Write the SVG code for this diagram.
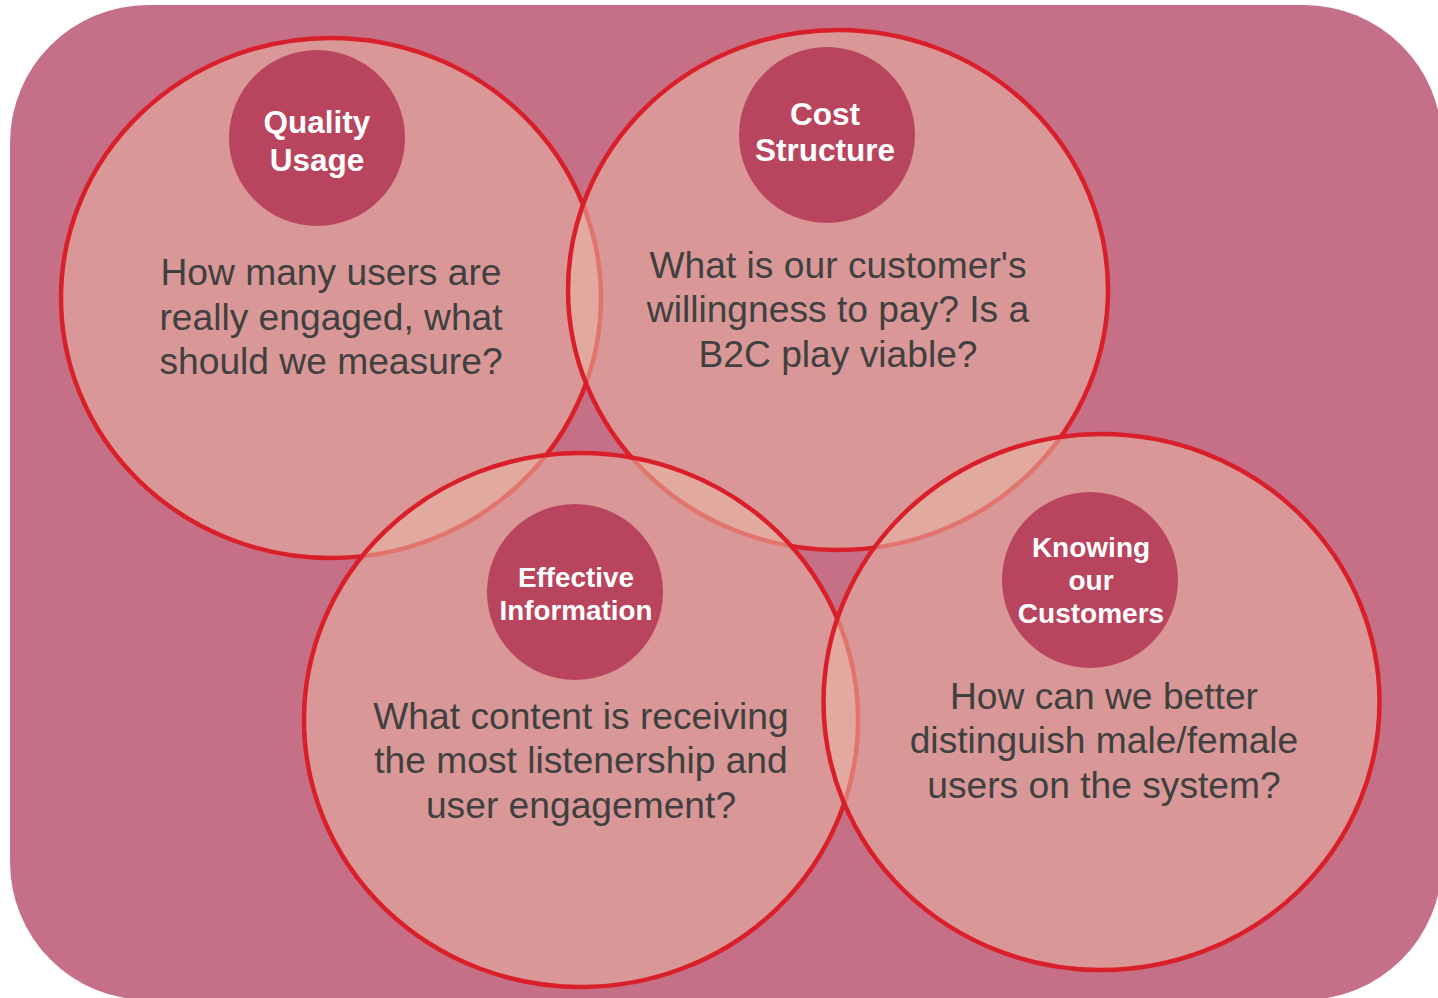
<svg xmlns="http://www.w3.org/2000/svg" width="1438" height="998" viewBox="0 0 1438 998">
  <style>
    .big { fill: #E9B9A5; fill-opacity: 0.55; stroke: #D91F2A; stroke-width: 4.5; }
    .badge { fill: #B8455D; }
    .q { font-family: "Liberation Sans", Arial, sans-serif; font-size: 37.2px; fill: #404040; text-anchor: middle; }
    .t { font-family: "Liberation Sans", Arial, sans-serif; font-weight: bold; fill: #FFFFFF; text-anchor: middle; }
  </style>
  <rect x="0" y="0" width="1438" height="998" fill="#FFFFFF"/>
  <rect id="background" x="10" y="5" width="1432" height="995" rx="138" ry="138" fill="#C57086"/>

  <g id="node-quality-usage">
    <ellipse class="big" cx="331" cy="298" rx="270" ry="260"/>
    <circle class="badge" cx="317" cy="138" r="88"/>
    <text class="t" font-size="31.5" x="317" y="133">Quality</text>
    <text class="t" font-size="31.5" x="317" y="171">Usage</text>
    <text class="q" x="331" y="285">How many users are</text>
    <text class="q" x="331" y="330">really engaged, what</text>
    <text class="q" x="331" y="374">should we measure?</text>
  </g>

  <g id="node-cost-structure">
    <ellipse class="big" cx="838" cy="290" rx="270" ry="260"/>
    <circle class="badge" cx="827" cy="135" r="88"/>
    <text class="t" font-size="31.5" x="825" y="125">Cost</text>
    <text class="t" font-size="31.5" x="825" y="161">Structure</text>
    <text class="q" x="838" y="278">What is our customer's</text>
    <text class="q" x="838" y="322">willingness to pay? Is a</text>
    <text class="q" x="838" y="367">B2C play viable?</text>
  </g>

  <g id="node-effective-information">
    <ellipse class="big" cx="581" cy="720" rx="277" ry="267"/>
    <circle class="badge" cx="575" cy="592" r="88"/>
    <text class="t" font-size="27.8" x="576" y="587">Effective</text>
    <text class="t" font-size="27.8" x="576" y="620">Information</text>
    <text class="q" x="581" y="729">What content is receiving</text>
    <text class="q" x="581" y="773">the most listenership and</text>
    <text class="q" x="581" y="818">user engagement?</text>
  </g>

  <g id="node-knowing-customers">
    <ellipse class="big" cx="1101.5" cy="702" rx="278" ry="268"/>
    <circle class="badge" cx="1090" cy="580" r="88"/>
    <text class="t" font-size="28" x="1091" y="557">Knowing</text>
    <text class="t" font-size="28" x="1091" y="590">our</text>
    <text class="t" font-size="28" x="1091" y="623">Customers</text>
    <text class="q" x="1104" y="709">How can we better</text>
    <text class="q" x="1104" y="753">distinguish male/female</text>
    <text class="q" x="1104" y="798">users on the system?</text>
  </g>

  <g id="connectors"/>
</svg>
